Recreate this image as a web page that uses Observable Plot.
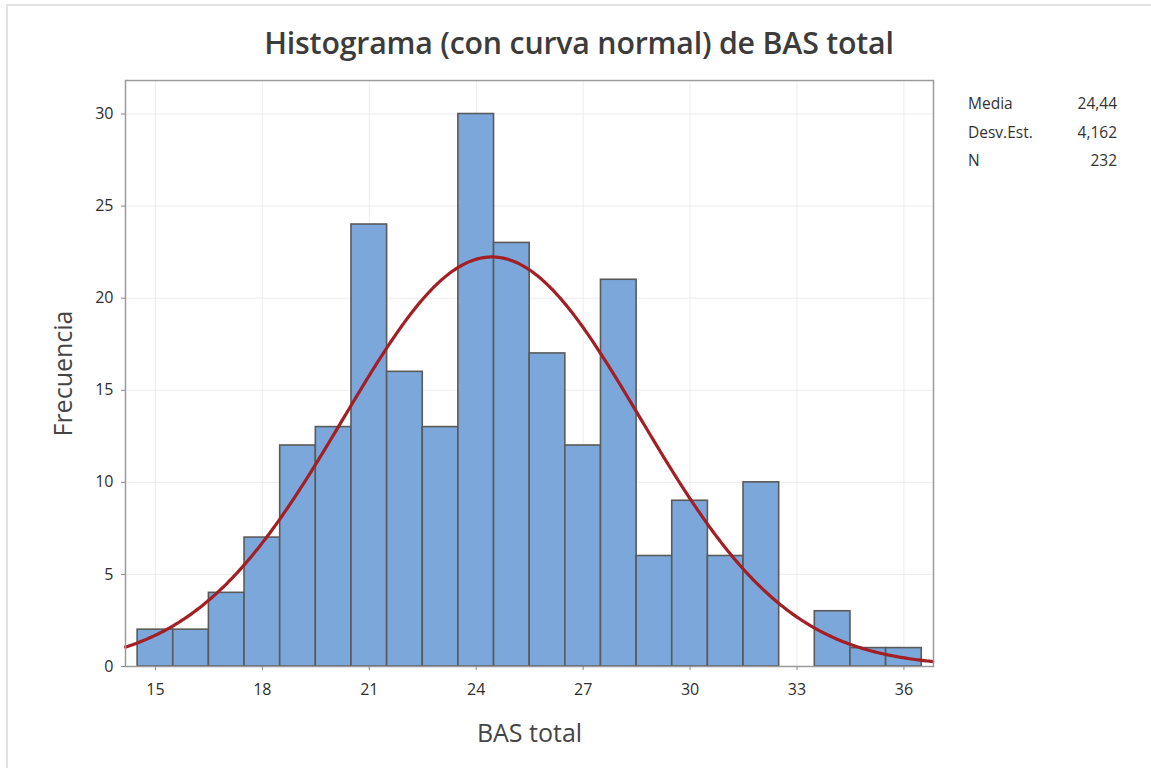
<!DOCTYPE html>
<html>
<head>
<meta charset="utf-8">
<script src="https://cdn.jsdelivr.net/npm/d3@7"></script>
<script src="https://cdn.jsdelivr.net/npm/@observablehq/plot@0.6"></script>
<style>
  html, body { margin: 0; padding: 0; background: #fff; }
  #wrap { position: relative; width: 1151px; height: 768px; font-family: "Open Sans", "Noto Sans", sans-serif; color: #333; }
  #edgeL { position: absolute; left: 6px; top: 4px; width: 2px; height: 764px; background: #e2e2e2; }
  #edgeT { position: absolute; left: 6px; top: 4px; width: 1145px; height: 2px; background: #e2e2e2; }
  #title { position: absolute; left: 125px; width: 908px; top: 22px; text-align: center; font-size: 30.3px; font-weight: 600; color: #3c3c3c; letter-spacing: -0.2px; }
  .stat { position: absolute; font-size: 15.5px; color: #333; }
</style>
</head>
<body>
<div id="wrap">
  <div id="edgeL"></div><div id="edgeT"></div>
  <div id="title">Histograma (con curva normal) de BAS total</div>
  <div id="chart"></div>
  <div id="stats"></div>
</div>
<script>
const binCenters = [15,16,17,18,19,20,21,22,23,24,25,26,27,28,29,30,31,32,33,34,35,36];
const counts     = [2, 2, 4, 7, 12,13,24,16,13,30,23,17,12,21, 6, 9, 6,10, 0, 3, 1, 1];
const xTicks = [15,18,21,24,27,30,33,36];
const yTicks = [0,5,10,15,20,25,30];
const statLabels = ["Media", "Desv.Est.", "N"];
const statValues = ["24,44", "4,162", "232"];
const mean = 24.44, sd = 4.162, n = 232, binWidth = 1;

const bins = binCenters.map((c, i) => ({x1: c - binWidth/2, x2: c + binWidth/2, y: counts[i]})).filter(d => d.y > 0);

const xDomain = [14.16, 36.83];
const curve = d3.range(xDomain[0], xDomain[1] + 0.001, 0.05).map(x => ({
  x, y: n * binWidth / (sd * Math.sqrt(2 * Math.PI)) * Math.exp(-0.5 * ((x - mean) / sd) ** 2)
}));

const chart = Plot.plot({
  width: 1151,
  height: 768,
  marginLeft: 125,
  marginRight: 218,
  marginTop: 80,
  marginBottom: 102,
  style: {fontFamily: '"Open Sans", "Noto Sans", sans-serif', fontSize: "16px", color: "#333", background: "transparent"},
  x: {domain: xDomain, label: null},
  y: {domain: [0, 31.82], label: null},
  marks: [
    Plot.gridX(xTicks, {stroke: "#ececec", strokeOpacity: 1}),
    Plot.gridY(yTicks.slice(1), {stroke: "#ececec", strokeOpacity: 1}),
    Plot.rectY(bins, {x1: "x1", x2: "x2", y: "y", fill: "#7ba7da", stroke: "#5a5a5a", strokeWidth: 1.6}),
    Plot.line(curve, {x: "x", y: "y", stroke: "#a31f24", strokeWidth: 3.2}),
    Plot.frame({stroke: "#9a9a9a", strokeWidth: 1.5}),
    Plot.axisX({ticks: xTicks, tickSize: 4, tickPadding: 13, stroke: "#888", fill: "#2e2e2e", fontSize: 16, fontWeight: 500}),
    Plot.axisY({ticks: yTicks, tickSize: 4, tickPadding: 8, stroke: "#888", fill: "#2e2e2e", fontSize: 16, fontWeight: 500}),
    Plot.text(["BAS total"], {frameAnchor: "bottom", dy: 75, fontSize: 25, fontWeight: 500, fill: "#454545"}),
    Plot.text(["Frecuencia"], {frameAnchor: "left", dx: -62, rotate: -90, textAnchor: "middle", fontSize: 25, fontWeight: 500, fill: "#454545"})
  ]
});
document.getElementById("chart").appendChild(chart);

const stats = document.getElementById("stats");
statLabels.forEach((lab, i) => {
  const top = 92 + i * 28.5;
  const a = document.createElement("div");
  a.className = "stat"; a.style.left = "968px"; a.style.top = top + "px"; a.textContent = lab;
  const b = document.createElement("div");
  b.className = "stat"; b.style.right = (1151 - 1117) + "px"; b.style.top = top + "px"; b.style.textAlign = "right"; b.textContent = statValues[i];
  stats.appendChild(a); stats.appendChild(b);
});
</script>
</body>
</html>
